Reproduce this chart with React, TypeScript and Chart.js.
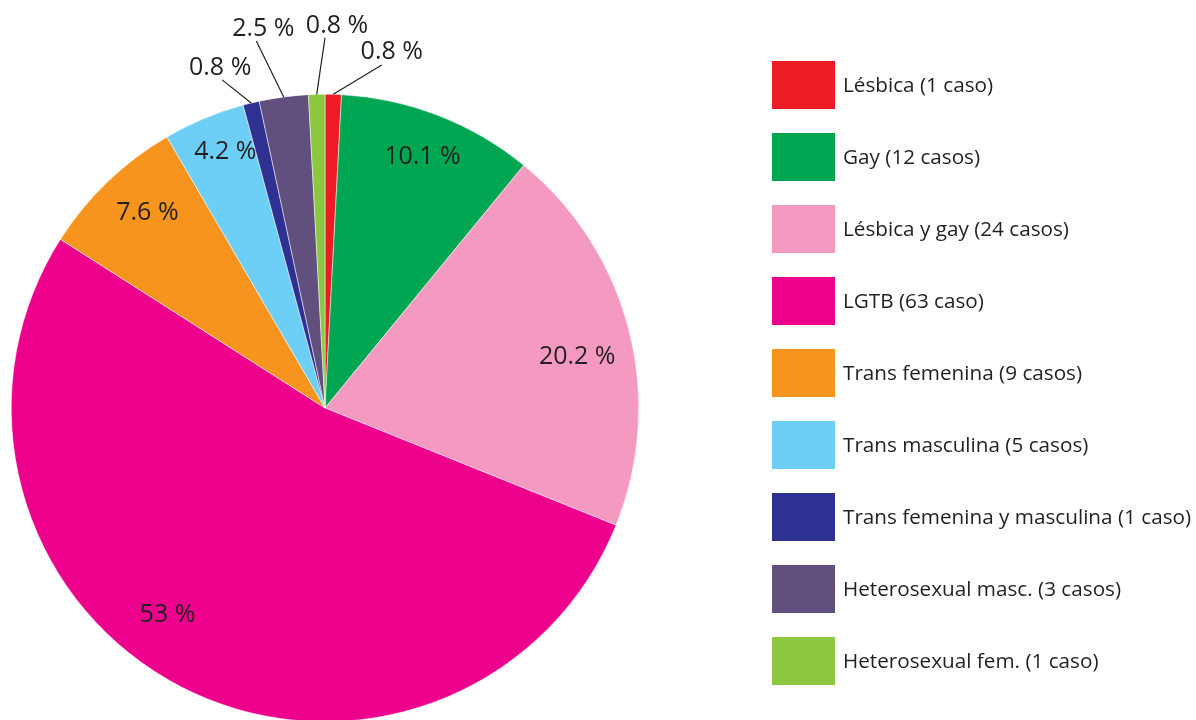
import React, { useEffect, useRef } from "react";
import { Chart, registerables } from "chart.js";

Chart.register(...registerables);

const categories = [
  "Lésbica (1 caso)",
  "Gay (12 casos)",
  "Lésbica y gay (24 casos)",
  "LGTB (63 caso)",
  "Trans femenina (9 casos)",
  "Trans masculina (5 casos)",
  "Trans femenina y masculina (1 caso)",
  "Heterosexual masc. (3 casos)",
  "Heterosexual fem. (1 caso)",
];
const casos = [1, 12, 24, 63, 9, 5, 1, 3, 1];
const percentLabels = ["0.8 %", "10.1 %", "20.2 %", "53 %", "7.6 %", "4.2 %", "0.8 %", "2.5 %", "0.8 %"];
const colors = ["#ed1c24", "#00a651", "#f49ac1", "#ec008c", "#f7941d", "#6dcff6", "#2e3192", "#614f7e", "#8dc63f"];

// label placement style: inside labels -> radial fraction + angle shift (deg);
// outside labels -> leader line to (angle deg from top, radius fraction), text offset
const labelStyle: any[] = [
  { out: true, a: 9.4, r: 1.108, tx: 10, ty: -13 },
  { r: 0.86, da: 0 },
  { r: 0.82, da: 3 },
  { r: 0.83, da: 10 },
  { r: 0.84, da: 1.5 },
  { r: 0.875, da: 1.4 },
  { out: true, a: 342.6, r: 1.096, tx: -2, ty: -12 },
  { out: true, a: 349.4, r: 1.19, tx: 7, ty: -12 },
  { out: true, a: 0, r: 1.18, tx: 12, ty: -12 },
];

const TEXT = "#231f20";
const FONT = "'Open Sans', sans-serif";

const overlayPlugin = {
  id: "overlay",
  afterDraw(chart: any) {
    const ctx = chart.ctx;
    const meta = chart.getDatasetMeta(0);
    ctx.save();
    ctx.fillStyle = TEXT;
    ctx.strokeStyle = TEXT;
    ctx.font = `25px ${FONT}`;
    ctx.textAlign = "center";
    ctx.textBaseline = "middle";
    meta.data.forEach((arc: any, i: number) => {
      const { x, y, startAngle, endAngle, outerRadius } = arc.getProps(
        ["x", "y", "startAngle", "endAngle", "outerRadius"],
        true
      );
      const mid = (startAngle + endAngle) / 2;
      const st = labelStyle[i];
      if (st.out) {
        const sx = x + Math.cos(mid) * outerRadius;
        const sy = y + Math.sin(mid) * outerRadius;
        const ang = (st.a * Math.PI) / 180 - Math.PI / 2;
        const ex = x + Math.cos(ang) * outerRadius * st.r;
        const ey = y + Math.sin(ang) * outerRadius * st.r;
        ctx.lineWidth = 1.2;
        ctx.beginPath();
        ctx.moveTo(sx, sy);
        ctx.lineTo(ex, ey);
        ctx.stroke();
        ctx.fillText(percentLabels[i], ex + st.tx, ey + st.ty);
      } else {
        const a = mid + (st.da * Math.PI) / 180;
        ctx.fillText(percentLabels[i], x + Math.cos(a) * outerRadius * st.r, y + Math.sin(a) * outerRadius * st.r);
      }
    });
    // legend
    ctx.font = `20.7px ${FONT}`;
    ctx.textAlign = "left";
    categories.forEach((c, i) => {
      const top = 61 + i * 72;
      ctx.fillStyle = colors[i];
      ctx.fillRect(772, top, 63, 48);
      ctx.fillStyle = TEXT;
      ctx.fillText(c, 843, top + 25);
    });
    ctx.restore();
  },
};

export default function App() {
  const ref = useRef<HTMLCanvasElement>(null);
  useEffect(() => {
    document.body.style.margin = "0";
    const chart = new Chart(ref.current!, {
      type: "pie",
      data: {
        labels: categories,
        datasets: [
          {
            data: casos,
            backgroundColor: colors,
            borderColor: "#ffffff",
            borderWidth: 0.5,
          },
        ],
      },
      options: {
        responsive: false,
        animation: false,
        layout: { padding: { left: 11, top: 94, right: 557, bottom: 8 } },
        plugins: { legend: { display: false }, tooltip: { enabled: false } },
      },
      plugins: [overlayPlugin],
    });
    return () => chart.destroy();
  }, []);
  return (
    <div style={{ position: "fixed", left: 0, top: 0, width: 1196, height: 720, overflow: "hidden", background: "#fff" }}>
      <canvas ref={ref} width={1196} height={730} style={{ width: 1196, height: 730, display: "block" }} />
    </div>
  );
}
